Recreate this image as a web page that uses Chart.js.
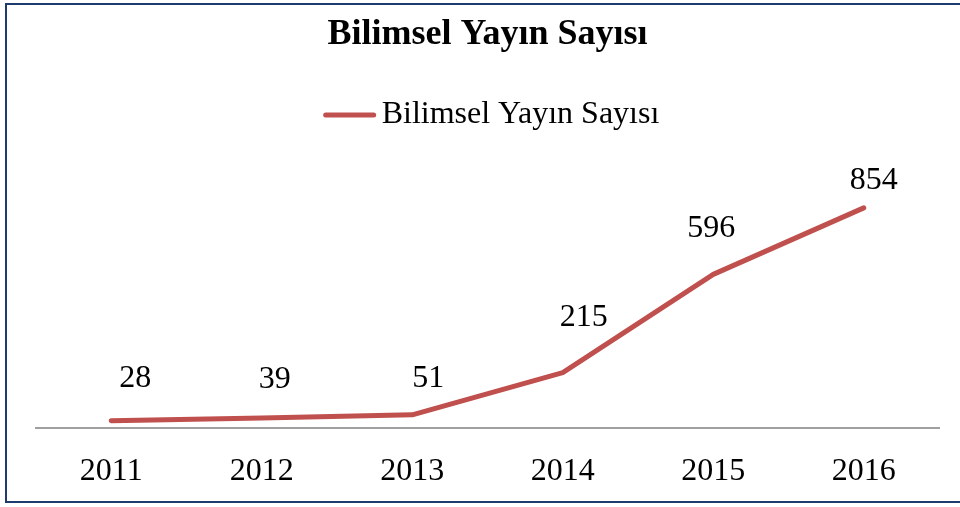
<!DOCTYPE html>
<html>
<head>
<meta charset="utf-8">
<script src="https://cdn.jsdelivr.net/npm/chart.js@4/dist/chart.umd.min.js"></script>
<style>
  html, body { margin: 0; padding: 0; background: #ffffff; overflow: hidden; }
  #wrap { position: relative; width: 960px; height: 507px; }
  #frame {
    position: absolute; left: 5px; top: 3px; width: 1000px; height: 496px;
    border: 2px solid #1F3A6C; pointer-events: none;
  }
</style>
</head>
<body>
<div id="wrap">
  <canvas id="chart" width="960" height="507"></canvas>
  <div id="frame"></div>
</div>
<script>
const chartTitle = 'Bilimsel Yayın Sayısı';
const years = ['2011', '2012', '2013', '2014', '2015', '2016'];
const publicationCounts = [28, 39, 51, 215, 596, 854];

const SERIF = '"Liberation Serif", "Times New Roman", serif';
const LINE_RED = '#C0504D';

// Hand-placed value labels: pixel nudges relative to each point
const labelNudgeX = [24, 13, 16, 21, -2, 10];
const labelNudgeY = [-42, -38, -36, -55, -46, -27];

const valueLabels = {
  id: 'valueLabels',
  afterDatasetsDraw(chart) {
    const ctx = chart.ctx;
    const meta = chart.getDatasetMeta(0);
    const values = chart.data.datasets[0].data;
    ctx.save();
    ctx.font = '32px ' + SERIF;
    ctx.fillStyle = '#000000';
    ctx.textAlign = 'center';
    ctx.textBaseline = 'middle';
    meta.data.forEach((pt, i) => {
      ctx.fillText(String(values[i]), pt.x + labelNudgeX[i], pt.y + labelNudgeY[i]);
    });
    ctx.restore();
  }
};

// Single-entry legend: short line sample followed by the series name
const lineLegend = {
  id: 'lineLegend',
  afterDraw(chart) {
    const ctx = chart.ctx;
    const ds = chart.data.datasets[0];
    const sampleLen = 52, gap = 6, cy = 115;
    ctx.save();
    ctx.font = '32px ' + SERIF;
    const textW = ctx.measureText(ds.label).width;
    const total = sampleLen + gap + textW;
    const area = chart.chartArea;
    const x0 = (area.left + area.right) / 2 - total / 2 + 4;
    ctx.strokeStyle = ds.borderColor;
    ctx.lineWidth = 5;
    ctx.lineCap = 'round';
    ctx.beginPath();
    ctx.moveTo(x0 + 2, cy);
    ctx.lineTo(x0 + sampleLen - 2, cy);
    ctx.stroke();
    ctx.fillStyle = '#000000';
    ctx.textAlign = 'left';
    ctx.textBaseline = 'middle';
    ctx.fillText(ds.label, x0 + sampleLen + gap, cy);
    ctx.restore();
  }
};

new Chart(document.getElementById('chart'), {
  type: 'line',
  data: {
    labels: years,
    datasets: [{
      label: chartTitle,
      data: publicationCounts,
      borderColor: LINE_RED,
      backgroundColor: LINE_RED,
      borderWidth: 5,
      borderCapStyle: 'round',
      borderJoinStyle: 'round',
      pointRadius: 0,
      pointHoverRadius: 0,
      tension: 0,
      fill: false
    }]
  },
  options: {
    responsive: false,
    animation: false,
    events: [],
    layout: { padding: { left: 36, right: 21, top: 0, bottom: 0 } },
    plugins: {
      legend: { display: false },
      tooltip: { enabled: false },
      title: {
        display: true,
        text: chartTitle,
        color: '#000000',
        font: { family: SERIF, size: 36, weight: 'bold', lineHeight: 1.2 },
        padding: { top: 13, bottom: 114 }
      }
    },
    scales: {
      x: {
        offset: true,
        grid: { display: false, drawTicks: false },
        border: { display: true, color: '#A0A0A0', width: 2 },
        afterFit(scale) { scale.height = 79; },
        ticks: {
          color: '#000000',
          padding: 24,
          font: { family: SERIF, size: 32, lineHeight: 1.2 },
          maxRotation: 0,
          autoSkip: false
        }
      },
      y: {
        display: false,
        min: 0,
        max: 1000
      }
    }
  },
  plugins: [valueLabels, lineLegend]
});
</script>
</body>
</html>
